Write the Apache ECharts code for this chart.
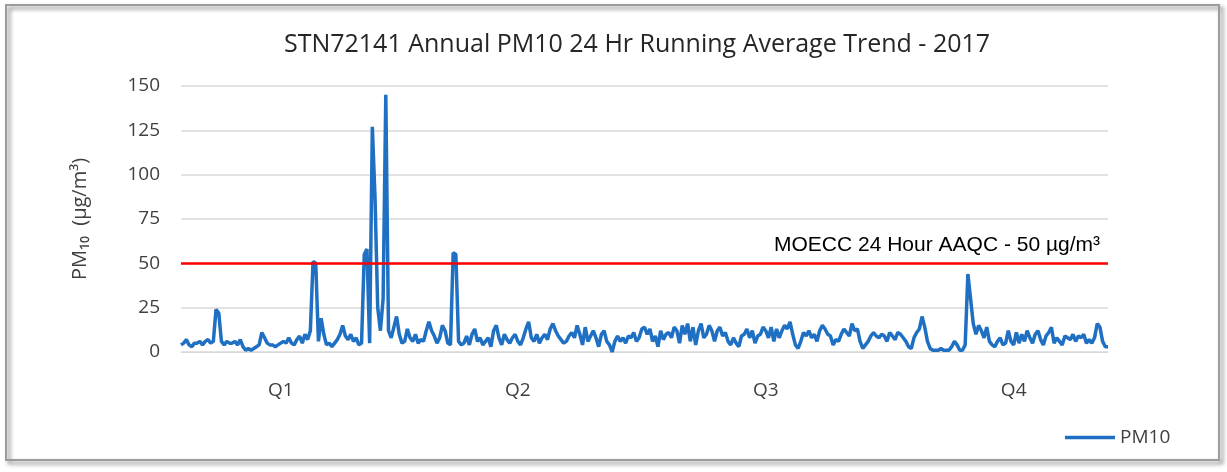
<!DOCTYPE html>
<html>
<head>
<meta charset="utf-8">
<script src="https://cdn.jsdelivr.net/npm/echarts@6/dist/echarts.min.js"></script>
<style>html,body{margin:0;padding:0;background:#fff}#c{width:1227px;height:472px}</style>
</head>
<body>
<div id="c"></div>
<script>
// Daily PM10 24-hr running average values (µg/m³)
const pm10Values = [
  4,5,7,4,3,5,5,6,4,6, 7,5,6,24,22,6,4,6,5,5,
  6,4,7,3,1,2,1,2,3,4, 11,8,5,4,4,3,4,5,6,5,
  8,5,4,7,9,5,10,7,12,51, 50,6,19,10,4,5,3,5,7,10,
  15,9,7,10,6,8,4,5,55,58, 5,127,87,25,12,30,145,12,8,14,
  20,10,5,6,13,8,6,10,5,7, 6,12,17,12,9,5,8,15,12,5,
  4,56,55,6,4,5,9,4,10,13, 6,8,4,6,8,3,12,15,8,4,
  10,7,5,8,10,6,4,8,13,17, 8,6,10,5,8,10,7,13,16,12,
  9,7,5,6,9,11,8,15,10,4, 14,6,9,12,8,3,10,12,6,4,
  0,6,9,6,8,5,9,8,11,6, 8,13,14,10,13,6,9,3,12,7,
  10,11,8,14,12,5,15,10,16,6, 14,4,12,16,8,10,15,12,6,12,
  14,9,11,6,4,8,5,3,9,10, 13,8,12,5,9,10,14,12,8,14,
  6,13,8,12,15,13,17,10,4,2, 6,11,9,12,8,10,6,12,15,13,
  10,9,4,7,6,10,13,11,9,16, 12,13,6,2,4,6,9,11,9,8,
  10,9,6,11,9,7,11,10,8,6, 3,2,8,11,13,20,14,6,2,1,
  1,1,2,1,1,1,3,6,4,1, 1,4,44,30,16,10,15,12,8,14,
  6,4,3,6,8,4,5,12,6,4, 11,5,10,6,12,8,5,10,12,7,
  4,9,11,14,5,8,6,4,9,8, 7,10,6,9,8,10,5,7,5,8,
  16,14,6,3,3
];
const dayIndex = pm10Values.map((_, i) => String(i));
const quarterLabels = ['Q1', 'Q2', 'Q3', 'Q4'];
const quarterLabelDays = [37, 125, 217, 309];
const yTicks = [0, 25, 50, 75, 100, 125, 150];
const aaqcLimit = 50;
const seriesName = 'PM10';
const titleText = 'STN72141 Annual PM10 24 Hr Running Average Trend - 2017';
const yAxisName = 'PM\u2081\u2080  (µg/m\u00B3)';
const limitLabel = 'MOECC 24 Hour AAQC - 50 µg/m\u00B3';

const chart = echarts.init(document.getElementById('c'));
const font = '"Open Sans", sans-serif';
chart.setOption({
  animation: false,
  backgroundColor: '#fff',
  graphic: [{
    type: 'rect',
    shape: { x: 6, y: 5, width: 1213, height: 455 },
    style: { fill: 'none', stroke: '#9c9c9c', lineWidth: 2,
      shadowBlur: 4, shadowOffsetX: 3, shadowOffsetY: 3, shadowColor: 'rgba(0,0,0,0.55)' },
    z: -1
  }],
  title: {
    text: titleText,
    left: 632, top: 27, textAlign: 'center',
    textStyle: { fontFamily: font, fontSize: 25, fontWeight: 'normal', color: '#262626' }
  },
  legend: {
    data: [{ name: seriesName, icon: 'rect' }],
    left: 1060, top: 423,
    itemWidth: 50, itemHeight: 3.5,
    textStyle: { fontFamily: font, fontSize: 19, color: '#404040' }
  },
  grid: { left: 181, right: 119, top: 86, bottom: 120 },
  xAxis: {
    type: 'category',
    data: dayIndex,
    boundaryGap: false,
    axisLine: { show: true, lineStyle: { color: '#d9d9d9', width: 1 } },
    axisTick: { show: false },
    splitLine: { show: false },
    axisLabel: {
      interval: (idx) => quarterLabelDays.includes(idx),
      formatter: (val, idx) => quarterLabels[quarterLabelDays.indexOf(idx)] || '',
      margin: 29,
      fontFamily: font, fontSize: 19, color: '#404040'
    }
  },
  yAxis: {
    type: 'value',
    min: yTicks[0], max: yTicks[yTicks.length - 1], interval: 25,
    name: yAxisName,
    nameLocation: 'middle',
    nameGap: 91,
    nameTextStyle: { fontFamily: font, fontSize: 20, color: '#404040' },
    axisLine: { show: false },
    axisTick: { show: false },
    axisLabel: { margin: 21, fontFamily: font, fontSize: 19, color: '#404040' },
    splitLine: { lineStyle: { color: '#d9d9d9', width: 1.5 } }
  },
  series: [{
    name: seriesName,
    type: 'line',
    data: pm10Values,
    showSymbol: false,
    symbol: 'none',
    lineStyle: { color: '#1f6fc2', width: 3.5 },
    itemStyle: { color: '#1f6fc2' },
    markLine: {
      silent: true,
      symbol: 'none',
      data: [{ yAxis: aaqcLimit }],
      lineStyle: { color: '#ff0000', width: 2.5, type: 'solid' },
      label: {
        position: 'insideEndTop',
        formatter: limitLabel,
        fontFamily: '"Liberation Sans", Arial, sans-serif',
        fontSize: 21, color: '#000', distance: 8
      }
    }
  }]
});
</script>
</body>
</html>
